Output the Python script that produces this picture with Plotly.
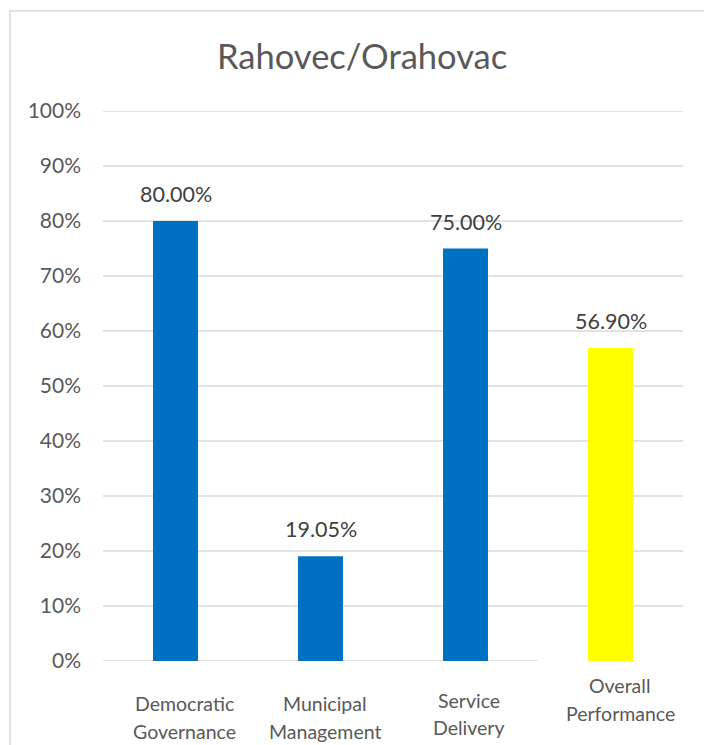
import plotly.graph_objects as go

title_text = "Rahovec/Orahovac"
categories = ["Democratic Governance", "Municipal Management", "Service Delivery", "Overall Performance"]
values = [80.00, 19.05, 75.00, 56.90]
bar_colors = ["#0070C0", "#0070C0", "#0070C0", "#FFFF00"]
y_ticks = [0, 10, 20, 30, 40, 50, 60, 70, 80, 90, 100]
y_tick_labels = [f"{v}%" for v in y_ticks]

# category label layout (page pixels): line centres and horizontal shift
label_lines_y = [(703.5, 731.5), (703.5, 731.5), (700, 727), (685, 713.5)]
label_xshift = [8.5, 4, 3, 9.5]

OFF = 8  # page body margin
W, H = 712 - OFF, 745 - OFF
L, R = 103 - OFF, 29
T, B = 111 - OFF, 84
PW, PH = W - L - R, H - T - B


def px(x):
    return (x - OFF - L) / PW


def py(y):
    return (661 - y) / PH


fig = go.Figure()
fig.add_trace(go.Bar(
    x=categories, y=values, marker=dict(color=bar_colors, line=dict(width=0)),
    width=0.31, hoverinfo="x+y", showlegend=False,
))

shapes = []
# frame
shapes.append(dict(type="rect", xref="paper", yref="paper",
                   x0=px(10), x1=(W - 1 - L) / PW, y0=py(770), y1=py(11),
                   line=dict(color="#d9d9d9", width=1.5), fillcolor="rgba(0,0,0,0)", layer="below"))
for v in y_ticks:
    if v == 0:
        shapes.append(dict(type="line", xref="x", yref="y", x0=-0.5, x1=2.5, y0=v, y1=v,
                           line=dict(color="#d9d9d9", width=1.5), layer="below"))
    else:
        shapes.append(dict(type="line", xref="paper", yref="y", x0=0, x1=1, y0=v, y1=v,
                           line=dict(color="#d9d9d9", width=1.5), layer="below"))

annotations = []
for c, v in zip(categories, values):
    annotations.append(dict(x=c, y=v, xref="x", yref="y", text=f"{v:.2f}%",
                            showarrow=False, yanchor="middle", yshift=27,
                            font=dict(family="Lato", size=21.5, color="#404040")))
for c, ys, xs in zip(categories, label_lines_y, label_xshift):
    for line, ly in zip(c.split(" "), ys):
        annotations.append(dict(x=c, y=py(ly), xref="x", yref="paper", text=line,
                                showarrow=False, yanchor="middle", xanchor="center",
                                xshift=xs,
                                font=dict(family="Lato", size=19.5, color="#595959")))
annotations.append(dict(x=px(362), y=py(55), xref="paper", yref="paper",
                        text=title_text, showarrow=False, yanchor="middle", xanchor="center",
                        font=dict(family="Lato", size=34.5, color="#595959")))

fig.update_layout(
    width=W, height=H,
    margin=dict(l=L, r=R, t=T, b=B),
    paper_bgcolor="white", plot_bgcolor="white",
    shapes=shapes, annotations=annotations,
    xaxis=dict(showticklabels=False, showgrid=False, zeroline=False, showline=False,
               range=[-0.5, 3.5], fixedrange=True),
    yaxis=dict(range=[0, 100], tickvals=y_ticks, ticktext=y_tick_labels,
               showgrid=False, zeroline=False, showline=False, ticklabelstandoff=21,
               tickfont=dict(family="Lato", size=21, color="#595959"), fixedrange=True),
    bargap=0.69,
)
fig.write_html("out.html")
